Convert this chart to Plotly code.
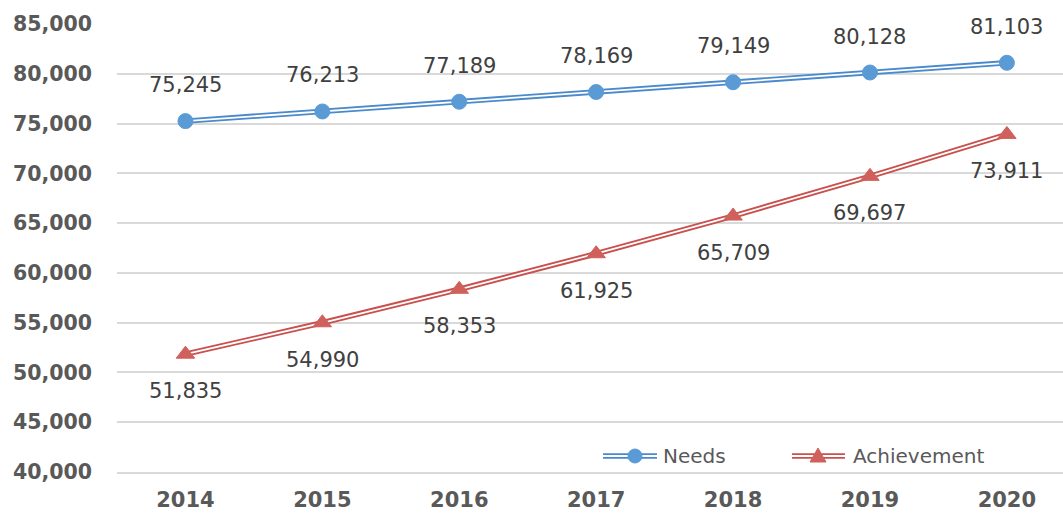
import plotly.graph_objects as go

years = ["2014", "2015", "2016", "2017", "2018", "2019", "2020"]
needs = [75245, 76213, 77189, 78169, 79149, 80128, 81103]
achievement = [51835, 54990, 58353, 61925, 65709, 69697, 73911]

W, H = 1063, 513
ML, MR, MT, MB = 117, 0, 24, 41
PW, PH = W - ML - MR, H - MT - MB

BLUE = "#5B9BD5"
BLUE_LINE = "#4A89CC"
RED = "#D0605C"
RED_LINE = "#C9504C"
GRID = "#D9D9D9"
AXIS_TXT = "#595959"
LABEL_TXT = "#404040"

fig = go.Figure()


def add_double_line(xs, ys, color, marker_symbol, marker_size, marker_color, name):
    # outer colored stroke
    fig.add_trace(go.Scatter(x=xs, y=ys, mode="lines", line=dict(color=color, width=5.5),
                             showlegend=False, hoverinfo="skip"))
    # inner white stroke producing the double-line look
    fig.add_trace(go.Scatter(x=xs, y=ys, mode="lines", line=dict(color="white", width=1.8),
                             showlegend=False, hoverinfo="skip"))
    fig.add_trace(go.Scatter(x=xs, y=ys, mode="markers", name=name,
                             marker=dict(symbol=marker_symbol, size=marker_size, color=marker_color,
                                         line=dict(color=marker_color, width=1)),
                             showlegend=False))


add_double_line(years, needs, BLUE_LINE, "circle", 15, BLUE, "Needs")
add_double_line(years, achievement, RED_LINE, "triangle-up", 16, RED, "Achievement")

annotations = []
for i, v in enumerate(needs):
    annotations.append(dict(x=i, y=v, xref="x", yref="y", text=f"{v:,}", showarrow=False,
                            yshift=36, font=dict(family="DejaVu Sans", size=21, color=LABEL_TXT)))
for i, v in enumerate(achievement):
    annotations.append(dict(x=i, y=v, xref="x", yref="y", text=f"{v:,}", showarrow=False,
                            yshift=-37, font=dict(family="DejaVu Sans", size=21, color=LABEL_TXT)))


# legend drawn with shapes so the double stroke shows in the key
def px_x(p):
    return (p - ML) / PW


def px_y(p):
    return (MT + PH - p) / PH


shapes = []
leg_y = px_y(456)
legend_items = [
    ("Needs", BLUE_LINE, BLUE, "circle", 603, 657, 635, 661),
    ("Achievement", RED_LINE, RED, "triangle", 792, 845, 818, 851),
]
for name, lc, mc, sym, x0, x1, xm, xt in legend_items:
    shapes.append(dict(type="line", xref="paper", yref="paper", x0=px_x(x0), x1=px_x(x1),
                       y0=leg_y, y1=leg_y, line=dict(color=lc, width=5.5), layer="above"))
    shapes.append(dict(type="line", xref="paper", yref="paper", x0=px_x(x0), x1=px_x(x1),
                       y0=leg_y, y1=leg_y, line=dict(color="white", width=1.8), layer="above"))
    if sym == "circle":
        shapes.append(dict(type="circle", xref="paper", yref="paper", xsizemode="pixel",
                           ysizemode="pixel", xanchor=px_x(xm), yanchor=leg_y,
                           x0=-7, x1=7, y0=-7, y1=7, fillcolor=mc, line=dict(color=mc, width=1),
                           layer="above"))
    else:
        shapes.append(dict(type="path", xref="paper", yref="paper", xsizemode="pixel",
                           ysizemode="pixel", xanchor=px_x(xm), yanchor=leg_y,
                           path="M -8,-6 L 8,-6 L 0,8 Z", fillcolor=mc,
                           line=dict(color=mc, width=1), layer="above"))
    annotations.append(dict(xref="paper", yref="paper", x=px_x(xt), y=leg_y, text=name,
                            xanchor="left", yanchor="middle", showarrow=False,
                            font=dict(family="DejaVu Sans", size=20, color=AXIS_TXT)))

fig.update_layout(
    width=W, height=H,
    margin=dict(l=ML, r=MR, t=MT, b=MB, autoexpand=False),
    paper_bgcolor="white", plot_bgcolor="white",
    showlegend=False,
    annotations=annotations,
    shapes=shapes,
    xaxis=dict(type="category", range=[-0.5, 6.41], showgrid=False, zeroline=False,
               automargin=False,
               showline=True, linecolor=GRID, linewidth=2, ticks="", ticklabelstandoff=8,
               tickfont=dict(family="DejaVu Sans", size=21, color=AXIS_TXT, weight="bold")),
    yaxis=dict(range=[40000, 85000], dtick=5000, tickformat=",", showgrid=True,
               automargin=False,
               gridcolor=GRID, gridwidth=2, zeroline=False, showline=False, ticks="",
               ticklabelstandoff=24,
               tickfont=dict(family="DejaVu Sans", size=20.5, color=AXIS_TXT, weight="bold")),
)

fig.write_html("out.html")
